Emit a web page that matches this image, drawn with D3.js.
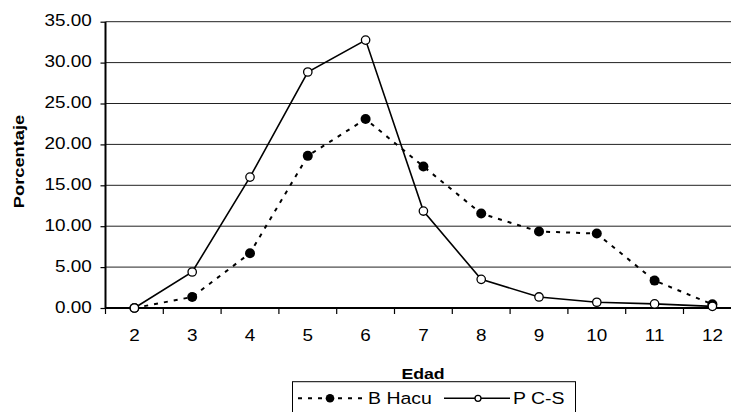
<!DOCTYPE html>
<html>
<head>
<meta charset="utf-8">
<script src="https://cdn.jsdelivr.net/npm/d3@7"></script>
<style>
  html, body { margin: 0; padding: 0; background: #fff; }
  svg { display: block; font-family: "Liberation Sans", Arial, sans-serif; }
</style>
</head>
<body>
<svg id="chart" width="731" height="412"></svg>
<script>
const categories = ["2", "3", "4", "5", "6", "7", "8", "9", "10", "11", "12"];
const bHacu = [0.0, 1.35, 6.7, 18.6, 23.1, 17.3, 11.55, 9.35, 9.1, 3.35, 0.45];
const pcs = [0.0, 4.4, 16.0, 28.85, 32.75, 11.85, 3.5, 1.35, 0.7, 0.5, 0.2];
const yTicks = [0, 5, 10, 15, 20, 25, 30, 35];
const seriesNames = ["B Hacu", "P C-S"];
const xTitle = "Edad";
const yTitle = "Porcentaje";

const svg = d3.select("#chart");
const SX = 1.18;
const left = 105.5, step = 57.8;
const x = d3.scaleBand().domain(categories).range([left, left + step * categories.length]).padding(0);
const y = d3.scaleLinear().domain([0, 35]).range([308, 21.7]);
const cx = c => x(c) + x.bandwidth() / 2;

function label(g, tx, ty, text, opts) {
  const o = Object.assign({size: 16, weight: "normal", anchor: "start", rot: 0}, opts || {});
  return g.append("text")
    .attr("transform", `translate(${tx},${ty}) rotate(${o.rot}) scale(${SX},1)`)
    .attr("text-anchor", o.anchor).attr("font-size", o.size).attr("font-weight", o.weight)
    .attr("fill", "#000").text(text);
}

// gridlines
svg.append("g").selectAll("line").data(yTicks.filter(d => d > 0)).join("line")
  .attr("x1", left).attr("x2", 731)
  .attr("y1", d => y(d)).attr("y2", d => y(d))
  .attr("stroke", "#222").attr("stroke-width", 1);

// y axis
const yAxis = svg.append("g").attr("transform", `translate(${left},0)`)
  .call(d3.axisLeft(y).tickValues(yTicks).tickFormat(d3.format(".2f")).tickSize(5));
yAxis.select(".domain").attr("stroke", "#000").attr("stroke-width", 2).attr("d", `M0,${y(35)}V${y(0)}`);
yAxis.selectAll(".tick line").attr("stroke", "#000").attr("stroke-width", 1.2);
yAxis.selectAll(".tick text").remove();
const fmt = d3.format(".2f");
const yl = svg.append("g");
yTicks.forEach(t => label(yl, 91.7, y(t) + 4.5, fmt(t), {anchor: "end", size: 16}));

// x axis
const xAxis = svg.append("g").attr("transform", `translate(0,${y(0)})`);
xAxis.append("line").attr("x1", left).attr("x2", 731).attr("y1", 0).attr("y2", 0)
  .attr("stroke", "#000").attr("stroke-width", 2);
const boundaries = categories.map(c => x(c)).filter(v => v < 731);
xAxis.selectAll(".xt").data(boundaries).join("line").attr("class", "xt")
  .attr("x1", d => d).attr("x2", d => d).attr("y1", 0).attr("y2", 6)
  .attr("stroke", "#000").attr("stroke-width", 1.2);
const xl = svg.append("g");
categories.forEach(c => label(xl, cx(c), y(0) + 33, c, {anchor: "middle", size: 16}));

// axis titles
label(svg, 423, 379, xTitle, {anchor: "middle", size: 15, weight: "bold"});
label(svg, 23.5, 161.5, yTitle, {anchor: "middle", size: 15.5, weight: "bold", rot: -90});

// lines
const line = d3.line().x((d, i) => cx(categories[i])).y(d => y(d));
svg.append("path").datum(bHacu).attr("d", line).attr("fill", "none")
  .attr("stroke", "#000").attr("stroke-width", 2).attr("stroke-dasharray", "4,6");
svg.append("path").datum(pcs).attr("d", line).attr("fill", "none")
  .attr("stroke", "#000").attr("stroke-width", 1.6);

// markers
svg.append("g").selectAll("circle").data(bHacu).join("circle")
  .attr("cx", (d, i) => cx(categories[i])).attr("cy", d => y(d)).attr("r", 5).attr("fill", "#000");
svg.append("g").selectAll("circle").data(pcs).join("circle")
  .attr("cx", (d, i) => cx(categories[i])).attr("cy", d => y(d)).attr("r", 4.2)
  .attr("fill", "#fff").attr("stroke", "#000").attr("stroke-width", 1.3);

// legend
const lg = svg.append("g");
lg.append("rect").attr("x", 292.5).attr("y", 381.7).attr("width", 283).attr("height", 40)
  .attr("fill", "#fff").attr("stroke", "#000").attr("stroke-width", 1);
const ly = 398.3;
lg.append("line").attr("x1", 298).attr("x2", 362).attr("y1", ly).attr("y2", ly)
  .attr("stroke", "#000").attr("stroke-width", 2).attr("stroke-dasharray", "4,6");
lg.append("circle").attr("cx", 330).attr("cy", ly).attr("r", 4.3).attr("fill", "#000");
label(lg, 368, ly + 6, seriesNames[0], {size: 16.5});
lg.append("line").attr("x1", 444).attr("x2", 510).attr("y1", ly).attr("y2", ly)
  .attr("stroke", "#000").attr("stroke-width", 1.6);
lg.append("circle").attr("cx", 478).attr("cy", ly).attr("r", 3).attr("fill", "#fff")
  .attr("stroke", "#000").attr("stroke-width", 1.3);
label(lg, 513, ly + 6, seriesNames[1], {size: 16.5});
</script>
</body>
</html>
